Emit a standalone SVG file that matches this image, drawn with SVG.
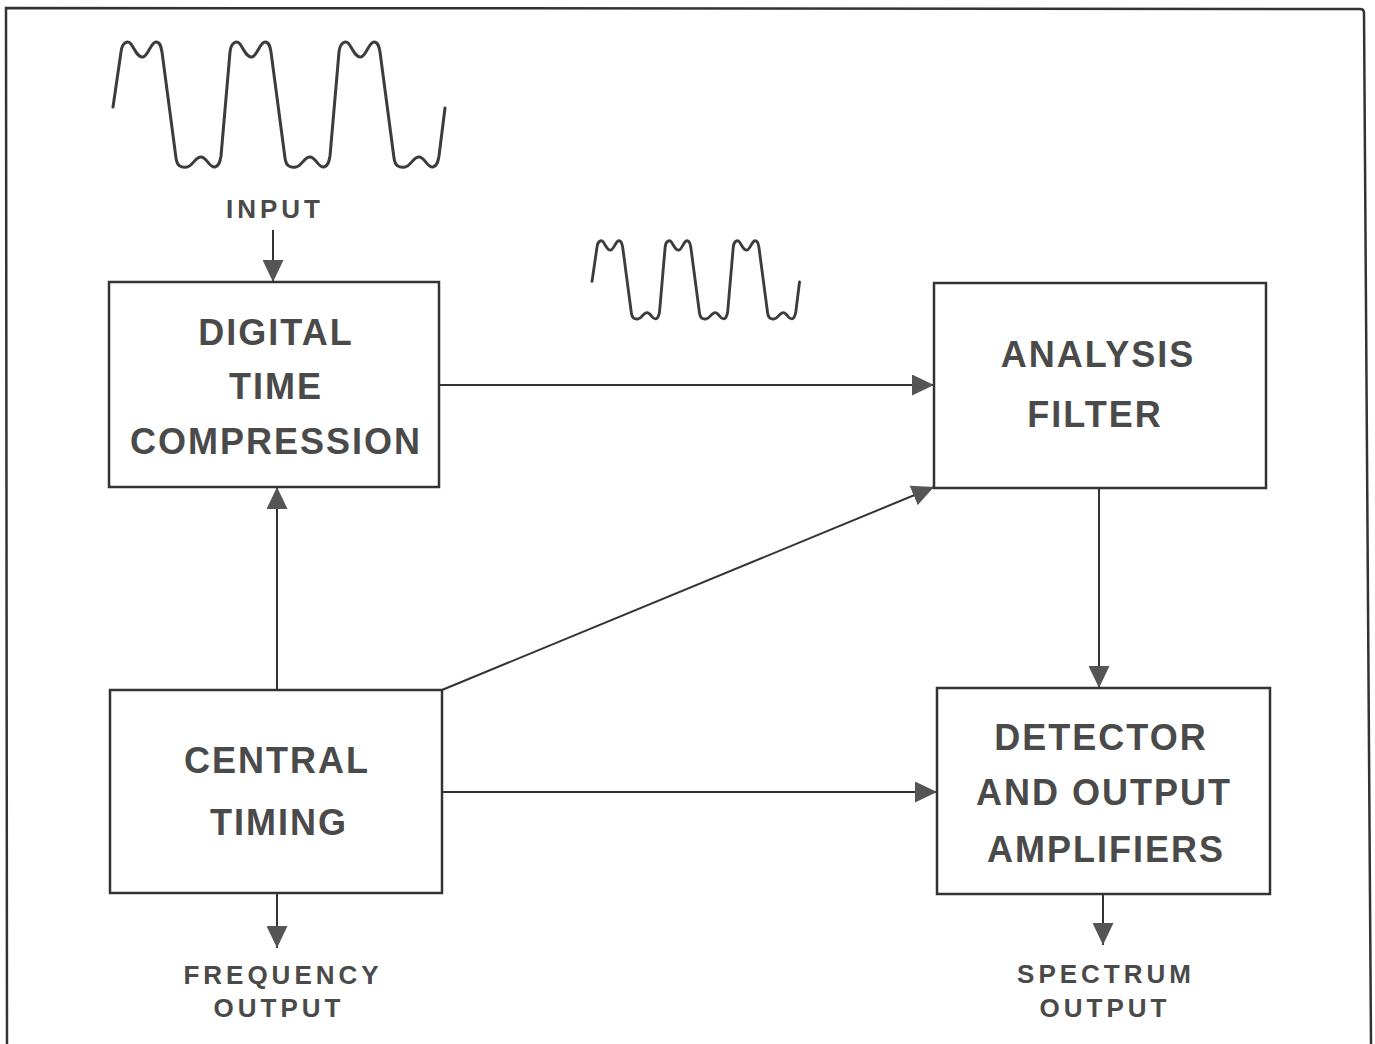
<svg xmlns="http://www.w3.org/2000/svg" width="1375" height="1044" viewBox="0 0 1375 1044">
<style>
.box{fill:#ffffff;stroke:#333333;stroke-width:2.5}
.lbl{font-family:"Liberation Sans",Arial,sans-serif;font-weight:bold;font-size:36px;letter-spacing:2px;fill:#4a4a4a;text-anchor:middle}
.sm{font-family:"Liberation Sans",Arial,sans-serif;font-weight:bold;font-size:26px;letter-spacing:4px;fill:#4a4a4a;text-anchor:middle}
.con{stroke:#333333;stroke-width:2;fill:none}
.wave{fill:none;stroke:#3c3c3c;stroke-width:3;stroke-linejoin:round;stroke-linecap:round}
.frame{fill:none;stroke:#333333;stroke-width:2.5}
</style>
<defs>
<marker id="ah" markerUnits="userSpaceOnUse" markerWidth="22" markerHeight="21" refX="22" refY="10.5" orient="auto">
<path d="M0,0 L22,10.5 L0,21 z" fill="#555555"/>
</marker>
<path id="wv" d="M113,107 L121,52 c1,-10 7,-12 10,-8 c4,6 7,14 12,13 c5,-1 8,-15 13,-15 c4,0 5,4 6,10 l14,106 c1,8 5,10 11,9 c6,-1 8,-10 14,-10 c6,0 8,11 14,10 c4,-1 5,-5 6,-11 l9,-104 c1,-10 7,-12 10,-8 c4,6 7,14 12,13 c5,-1 8,-15 13,-15 c4,0 5,4 6,10 l14,106 c1,8 5,10 11,9 c6,-1 8,-10 14,-10 c6,0 8,11 14,10 c4,-1 5,-5 6,-11 l9,-104 c1,-10 7,-12 10,-8 c4,6 7,14 12,13 c5,-1 8,-15 13,-15 c4,0 5,4 6,10 l14,106 c1,8 5,10 11,9 c6,-1 8,-10 14,-10 c6,0 8,11 14,10 c4,-1 5,-5 6,-11 l6,-48"/>
</defs>
<rect width="1375" height="1044" fill="#ffffff"/>
<path class="frame" d="M7,1044 L6,8 L1360,9 Q1364,9 1364,13 L1371,1044"/>
<g id="waveforms">
<use href="#wv" class="wave"/>
<use href="#wv" class="wave" transform="translate(521.4,214.5) scale(0.625)" style="stroke-width:4.6"/>
</g>
<g id="connectors">
<line class="con" x1="273" y1="230" x2="273" y2="282" marker-end="url(#ah)"/>
<line class="con" x1="439" y1="385" x2="934" y2="385" marker-end="url(#ah)"/>
<line class="con" x1="277" y1="690" x2="277" y2="487" marker-end="url(#ah)"/>
<line class="con" x1="442" y1="690" x2="934" y2="487" marker-end="url(#ah)"/>
<line class="con" x1="442" y1="792" x2="937" y2="792" marker-end="url(#ah)"/>
<line class="con" x1="1099" y1="488" x2="1099" y2="688" marker-end="url(#ah)"/>
<line class="con" x1="277" y1="893" x2="277" y2="948" marker-end="url(#ah)"/>
<line class="con" x1="1103" y1="894" x2="1103" y2="945" marker-end="url(#ah)"/>
</g>
<g id="input-label"><text class="sm" x="275" y="218">INPUT</text></g>
<g id="digital-time-compression">
<rect class="box" x="109" y="282" width="330" height="205"/>
<text class="lbl" x="276" y="345">DIGITAL</text>
<text class="lbl" x="276" y="399">TIME</text>
<text class="lbl" x="276" y="454">COMPRESSION</text>
</g>
<g id="analysis-filter">
<rect class="box" x="934" y="283" width="332" height="205"/>
<text class="lbl" x="1098" y="367">ANALYSIS</text>
<text class="lbl" x="1095" y="427">FILTER</text>
</g>
<g id="central-timing">
<rect class="box" x="110" y="690" width="332" height="203"/>
<text class="lbl" x="277" y="773">CENTRAL</text>
<text class="lbl" x="279" y="835">TIMING</text>
</g>
<g id="detector-output-amplifiers">
<rect class="box" x="937" y="688" width="333" height="206"/>
<text class="lbl" x="1101" y="750">DETECTOR</text>
<text class="lbl" x="1104" y="805">AND OUTPUT</text>
<text class="lbl" x="1106" y="862">AMPLIFIERS</text>
</g>
<g id="frequency-output-label">
<text class="sm" x="283" y="984">FREQUENCY</text>
<text class="sm" x="279" y="1017">OUTPUT</text>
</g>
<g id="spectrum-output-label">
<text class="sm" x="1106" y="983">SPECTRUM</text>
<text class="sm" x="1105" y="1017">OUTPUT</text>
</g>
</svg>
